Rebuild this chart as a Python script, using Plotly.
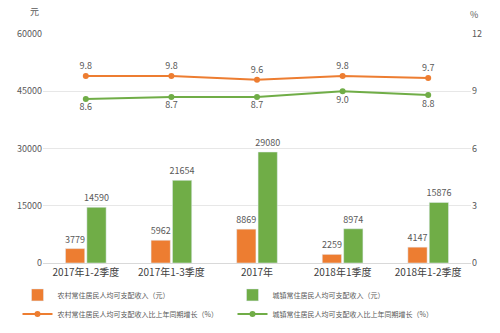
import plotly.graph_objects as go

categories = ["2017年1-2季度", "2017年1-3季度", "2017年", "2018年1季度", "2018年1-2季度"]
rural_income = [3779, 5962, 8869, 2259, 4147]
urban_income = [14590, 21654, 29080, 8974, 15876]
rural_growth = [9.8, 9.8, 9.6, 9.8, 9.7]
urban_growth = [8.6, 8.7, 8.7, 9.0, 8.8]

names = [
    "农村常住居民人均可支配收入（元）",
    "城镇常住居民人均可支配收入（元）",
    "农村常住居民人均可支配收入比上年同期增长（%）",
    "城镇常住居民人均可支配收入比上年同期增长（%）",
]

ORANGE = "#ED7D31"
GREEN = "#70AD47"
FONT = "Noto Sans CJK SC"
TXT = "#595959"

fig = go.Figure()
fig.add_trace(go.Bar(
    x=categories, y=rural_income, name=names[0], marker_color=ORANGE,
    text=[str(v) for v in rural_income], textposition="outside",
    textfont=dict(size=9, color=TXT), cliponaxis=False, constraintext="none",
))
fig.add_trace(go.Bar(
    x=categories, y=urban_income, name=names[1], marker_color=GREEN,
    text=[str(v) for v in urban_income], textposition="outside",
    textfont=dict(size=9, color=TXT), cliponaxis=False, constraintext="none",
))
fig.add_trace(go.Scatter(
    x=categories, y=rural_growth, name=names[2], yaxis="y2",
    mode="lines+markers+text", line=dict(color=ORANGE, width=2),
    marker=dict(size=6, color=ORANGE),
    text=[f"{v:.1f}" for v in rural_growth], textposition="top center",
    textfont=dict(size=9, color=TXT),
))
fig.add_trace(go.Scatter(
    x=categories, y=urban_growth, name=names[3], yaxis="y2",
    mode="lines+markers+text", line=dict(color=GREEN, width=2),
    marker=dict(size=6, color=GREEN),
    text=[f"{v:.1f}" for v in urban_growth], textposition="bottom center",
    textfont=dict(size=9, color=TXT),
))

fig.update_layout(
    width=500, height=333,
    margin=dict(l=43, r=29, t=34, b=70),
    paper_bgcolor="white", plot_bgcolor="white",
    font=dict(family=FONT, size=9, color=TXT),
    barmode="group", bargap=0.5, bargroupgap=0.1,
    uniformtext=dict(mode=False),
    showlegend=True,
    legend=dict(
        orientation="h", xref="container", yref="container",
        x=0.035, xanchor="left", y=0.158, yanchor="top",
        entrywidth=170, entrywidthmode="pixels",
        font=dict(size=7, color=TXT), itemwidth=30, tracegroupgap=0,
    ),
    xaxis=dict(
        showgrid=False, showline=True, linecolor="#D9D9D9",
        tickfont=dict(size=10, color="#404040"), ticks="", automargin=False,
    ),
    yaxis=dict(
        range=[0, 60000], dtick=15000, tickformat="d", showgrid=True,
        gridcolor="#E7E7E7", zeroline=False, automargin=False,
        tickfont=dict(size=9, color=TXT), ticks="",
    ),
    yaxis2=dict(
        range=[0, 12], dtick=3, overlaying="y", side="right", showgrid=False,
        zeroline=False, tickfont=dict(size=9, color=TXT), ticks="",
        automargin=False,
    ),
    annotations=[
        dict(text="元", xref="paper", yref="paper", x=-0.035, y=1.06,
             showarrow=False, font=dict(size=9, color=TXT), yanchor="bottom"),
        dict(text="%", xref="paper", yref="paper", x=1.02, y=1.05,
             showarrow=False, font=dict(size=9, color=TXT), yanchor="bottom"),
    ],
)

fig.write_html("out.html")
